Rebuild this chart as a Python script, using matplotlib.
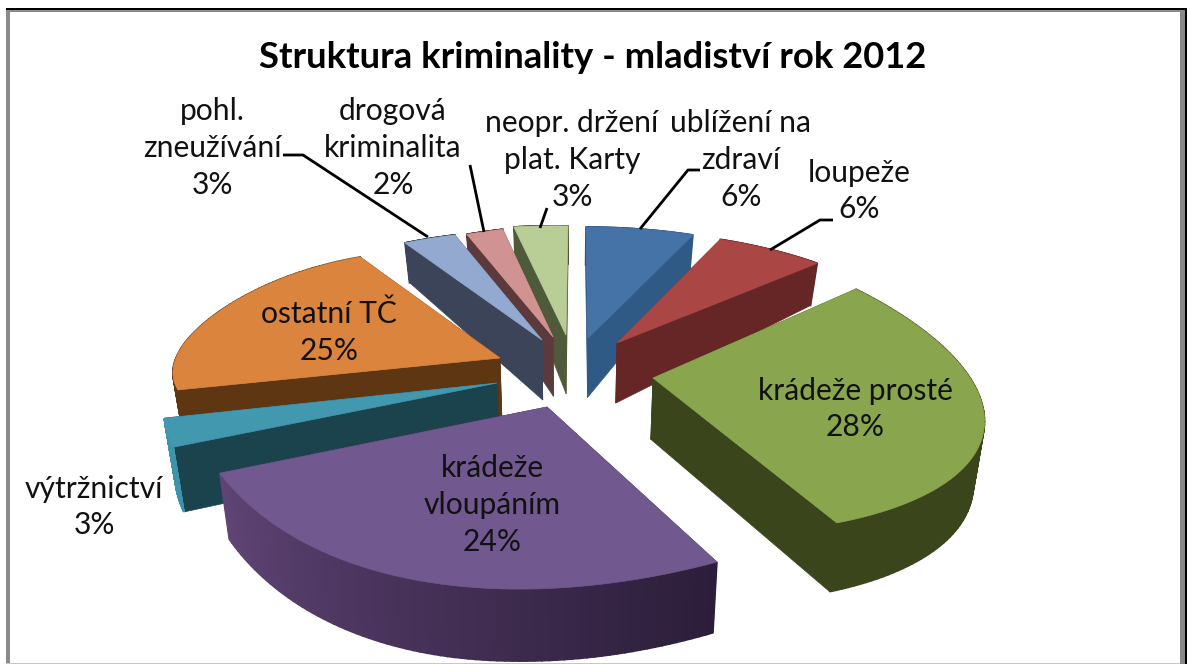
import numpy as np
import matplotlib
matplotlib.use("Agg")
import matplotlib.pyplot as plt
from matplotlib.patches import Polygon, Rectangle

# ---- data ----
title = "Struktura kriminality - mladistv\u00ed rok 2012"
categories = ["ubl\u00ed\u017een\u00ed na\nzdrav\u00ed", "loupe\u017ee", "kr\u00e1de\u017ee prost\u00e9",
              "kr\u00e1de\u017ee\nvloup\u00e1n\u00edm", "v\u00fdtr\u017enictv\u00ed", "ostatn\u00ed T\u010c",
              "pohl.\nzneu\u017e\u00edv\u00e1n\u00ed", "drogov\u00e1\nkriminalita",
              "neopr. dr\u017een\u00ed\nplat. Karty"]
values = [6, 6, 28, 24, 3, 25, 3, 2, 3]

# ---- style: per-slice exploded placement of the tilted pie ----
top_colors = ["#4572a7", "#aa4643", "#89a54e", "#71588f", "#4198af", "#db843d", "#93a9cf", "#d19392", "#b9cd96"]
cut_colors = ["#2f5a86", "#652625", "#3b451b", "#3a2a4c", "#1b434d", "#5e3712", "#3b4458", "#5c3a3b", "#4e5a3a"]
rim_right = ["#2f5a86", "#652625", "#3b451b", "#2c1e3a", "#3c93ab", "#5e3712", "#3b4458", "#5c3a3b", "#4e5a3a"]
rim_left = ["#2f5a86", "#652625", "#3b451b", "#5f4475", "#3c93ab", "#5e3712", "#3b4458", "#5c3a3b", "#4e5a3a"]
apex = [(588, 338), (617, 343), (653, 378), (547, 407), (497, 383), (500, 358), (542, 340), (553, 337), (566, 335)]
tilt = [(290, 2, 0.6, 111), (301, 8, 4, 113), (303.5, 6.8, 34.3, 154.2), (373.7, -61.5, 45.4, 158.6),
        (299, -146.5, 45.6, 155.9), (349.6, -32.6, 20.7, 103.9), (288, -2, 1.3, 110), (294, -5, -12.7, 112),
        (288.6, -2, 5, 109)]
bulge = [(0, 0), (0, 0), (28, 4), (-20, 22), (0, 0), (42, 5), (0, 0), (0, 0), (0, 0)]
paint_order = [8, 7, 6, 0, 1, 5, 4, 2, 3]
depth_y = [230, 263, 340, 400, 470, 585]
depth_h = [38, 42, 60, 62, 66, 72]

label_pos = [(741, 160), (859, 191), (855, 409), (492, 505), (94, 507), (329, 332), (212, 148), (393, 148), (572, 160)]
leaders = [[(640, 229), (688, 170), (700, 170)],
           [(770, 250), (820, 220), (833, 220)],
           [(283, 155), (303, 155), (428, 237)],
           [(470, 165), (484, 232)],
           [(547, 208), (540, 228)]]

plt.rcParams["font.family"] = ["Lato", "DejaVu Sans"]
fig = plt.figure(figsize=(11.87, 6.64), dpi=100, facecolor="white")
ax = fig.add_axes([0, 0, 1, 1])
ax.set_xlim(0, 1187)
ax.set_ylim(664, 0)
ax.axis("off")


def lift(pts):
    """Bottom-face outline: the extrusion grows with nearness to the viewer."""
    pts = np.asarray(pts, float)
    return np.column_stack([pts[:, 0] - 0.027 * (pts[:, 0] - 570),
                            pts[:, 1] + np.interp(pts[:, 1], depth_y, depth_h)])


def hex2rgb(c):
    return np.array(matplotlib.colors.to_rgb(c))


edges = np.concatenate([[0], np.cumsum(values)]) / np.sum(values) * 360.0
z = 2
for i in paint_order:
    th = np.linspace(edges[i], edges[i + 1], 80)
    mid, span = (edges[i] + edges[i + 1]) / 2, edges[i + 1] - edges[i]
    ux, uy = np.sin(np.radians(th)), -np.cos(np.radians(th))
    a, b, c, d = tilt[i]
    w = np.cos(np.pi * (th - mid) / span)
    arc = np.column_stack([apex[i][0] + a * ux + b * uy + bulge[i][0] * w,
                           apex[i][1] + c * ux + d * uy + bulge[i][1] * w])
    ap = np.array([apex[i]], float)
    arc_b, ap_b = lift(arc), lift(ap)
    # the two cut faces
    for end in (0, -1):
        quad = [ap[0], arc[end], arc_b[end], ap_b[0]]
        ax.add_patch(Polygon(quad, closed=True, fc=cut_colors[i], ec=cut_colors[i], lw=0.5, zorder=z))
    z += 1
    # rim, shaded along the arc
    for k in range(len(th) - 1):
        t = k / (len(th) - 2)
        col = (1 - t) * hex2rgb(rim_right[i]) + t * hex2rgb(rim_left[i])
        quad = [arc[k], arc[k + 1], arc_b[k + 1], arc_b[k]]
        ax.add_patch(Polygon(quad, closed=True, fc=col, ec=col, lw=1.2, zorder=z))
    z += 1
    # top face
    ax.add_patch(Polygon(np.vstack([ap, arc]), closed=True, fc=top_colors[i], ec=top_colors[i], lw=0.5, zorder=z))
    z += 1

for line in leaders:
    xs, ys = zip(*line)
    ax.plot(xs, ys, color="black", lw=2.0, zorder=z, solid_capstyle="butt")

for (x, y), cat, v in zip(label_pos, categories, values):
    ax.text(x, y, f"{cat}\n{v}%", ha="center", va="center", fontsize=21.6, color="#111111",
            linespacing=1.38, zorder=z + 1)

ax.text(593, 57, title, ha="center", va="center", fontsize=26.2, fontweight="bold", color="black", zorder=z + 1)

# window frame of the screenshot
ax.add_patch(Rectangle((6, 10), 1179, 2, fc="#8a8a8a", ec="none", zorder=z + 2))
ax.add_patch(Rectangle((6, 10), 4, 654, fc="#8a8a8a", ec="none", zorder=z + 2))
ax.add_patch(Rectangle((1180, 10), 5, 654, fc="#8a8a8a", ec="none", zorder=z + 2))
ax.add_patch(Rectangle((6, 662.5), 1174, 1.5, fc="#c8c8c8", ec="none", zorder=z + 2))
ax.add_patch(Rectangle((6, 7.5), 1181, 2.5, fc="black", ec="none", zorder=z + 3))
ax.add_patch(Rectangle((1185, 7.5), 2, 656.5, fc="black", ec="none", zorder=z + 3))

fig.savefig("out.png", dpi=100, facecolor="white")
